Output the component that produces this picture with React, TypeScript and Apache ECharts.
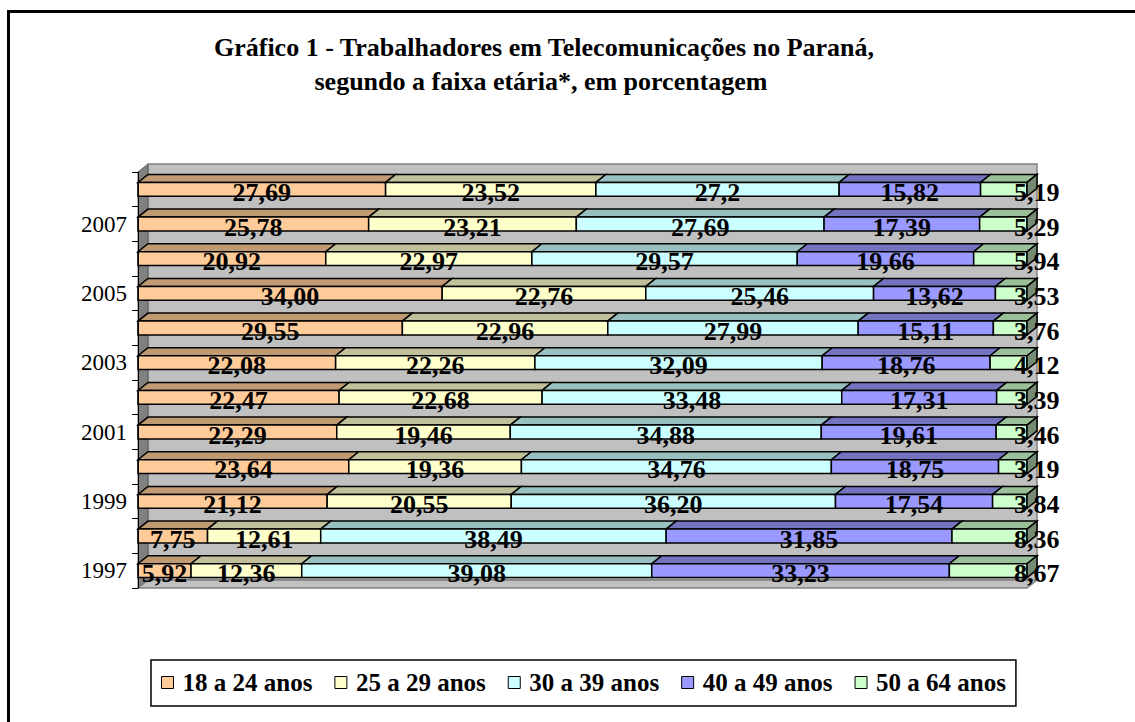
import React, { useEffect, useRef } from "react";
import * as echarts from "echarts";

const years = ["1997", "1998", "1999", "2000", "2001", "2002", "2003", "2004", "2005", "2006", "2007", "2008"];
const groupNames = ["18 a 24 anos", "25 a 29 anos", "30 a 39 anos", "40 a 49 anos", "50 a 64 anos"];
const g18 = ["5.92", "7.75", "21.12", "23.64", "22.29", "22.47", "22.08", "29.55", "34.00", "20.92", "25.78", "27.69"];
const g25 = ["12.36", "12.61", "20.55", "19.36", "19.46", "22.68", "22.26", "22.96", "22.76", "22.97", "23.21", "23.52"];
const g30 = ["39.08", "38.49", "36.20", "34.76", "34.88", "33.48", "32.09", "27.99", "25.46", "29.57", "27.69", "27.2"];
const g40 = ["33.23", "31.85", "17.54", "18.75", "19.61", "17.31", "18.76", "15.11", "13.62", "19.66", "17.39", "15.82"];
const g50 = ["8.67", "8.36", "3.84", "3.19", "3.46", "3.39", "4.12", "3.76", "3.53", "5.94", "5.29", "5.19"];
const groups = [g18, g25, g30, g40, g50];

const frontColors = ["#FFCC99", "#FFFFCC", "#CCFFFF", "#9999FF", "#CCFFCC"];
const topColors = ["#C09A73", "#C0C09A", "#99C0C0", "#7373C0", "#99C099"];
const sideColor = "#738C73";

const FONT = '"Liberation Serif", "Times New Roman", serif';
const DX = 10;
const DY = 8;
const GL = 138;
const GT = 172;
const GR = 1027;
const GB = 588;

export default function App() {
  const ref = useRef<HTMLDivElement>(null);

  useEffect(() => {
    if (!ref.current) return;
    const chart = echarts.init(ref.current, null, { renderer: "svg" });

    const totals = years.map((_, i) => groups.reduce((s, g) => s + parseFloat(g[i]), 0));
    const cum: number[][] = [];
    years.forEach((_, i) => {
      let acc = 0;
      groups.forEach((g, k) => {
        if (!cum[k]) cum[k] = [];
        const pct = (parseFloat(g[i]) / totals[i]) * 100;
        cum[k][i] = acc;
        acc += pct;
      });
    });

    const labelRows: number[][] = [];
    const labelTexts: string[] = [];
    const labelGroup: number[] = [];
    groups.forEach((g, k) => {
      years.forEach((_, i) => {
        const pct = (parseFloat(g[i]) / totals[i]) * 100;
        labelRows.push([cum[k][i] + pct / 2, i]);
        labelTexts.push(g[i].replace(".", ","));
        labelGroup.push(k);
      });
    });

    const barSeries = groups.map((g, k) => ({
      type: "custom",
      name: groupNames[k],
      itemStyle: { color: frontColors[k], borderColor: "#000" },
      encode: { x: [0, 1], y: 2 },
      data: years.map((_, i) => [cum[k][i], cum[k][i] + (parseFloat(g[i]) / totals[i]) * 100, i]),
      renderItem: (params: any, api: any) => {
        const s = api.value(0);
        const e = api.value(1);
        const ci = api.value(2);
        const p0 = api.coord([s, ci]);
        const p1 = api.coord([e, ci]);
        const band = api.size([0, 1])[1];
        const h = band * 0.4;
        const x0 = p0[0];
        const x1 = p1[0];
        const yT = p0[1] - h / 2;
        const yB = p0[1] + h / 2;
        const children: any[] = [
          {
            type: "polygon",
            shape: { points: [[x0, yT], [x1, yT], [x1 + DX, yT - DY], [x0 + DX, yT - DY]] },
            style: { fill: topColors[k], stroke: "#000", lineWidth: 1.5 },
          },
          {
            type: "rect",
            shape: { x: x0, y: yT, width: x1 - x0, height: h },
            style: { fill: frontColors[k], stroke: "#000", lineWidth: 1.5 },
          },
        ];
        if (k === groups.length - 1) {
          children.push({
            type: "polygon",
            shape: { points: [[x1, yT], [x1 + DX, yT - DY], [x1 + DX, yB - DY], [x1, yB]] },
            style: { fill: sideColor, stroke: "#000", lineWidth: 1.5 },
          });
        }
        return { type: "group", children };
      },
    }));

    const labelSeries = {
      type: "custom",
      name: "labels",
      z: 10,
      silent: true,
      encode: { x: 0, y: 1 },
      data: labelRows,
      renderItem: (params: any, api: any) => {
        const p = api.coord([api.value(0), api.value(1)]);
        const isLast = labelGroup[params.dataIndex] === groups.length - 1;
        const x = isLast ? Math.max(p[0] - 22, GR - 13) : p[0];
        const align = isLast ? "left" : "center";
        return {
          type: "text",
          x,
          y: p[1] + 3,
          style: {
            text: labelTexts[params.dataIndex],
            font: `bold 26px ${FONT}`,
            fill: "#000",
            textAlign: align,
            textVerticalAlign: "middle",
            align,
            verticalAlign: "middle",
          },
        };
      },
    };

    chart.setOption({
      animation: false,
      backgroundColor: "#fff",
      grid: { left: GL, right: 1135 - GR, top: GT, bottom: 722 - GB },
      xAxis: { type: "value", min: 0, max: 100, show: false },
      yAxis: {
        type: "category",
        data: years,
        axisLine: { show: true, lineStyle: { color: "#000", width: 1 } },
        axisTick: { show: true, interval: 0, length: 6, lineStyle: { color: "#000" } },
        axisLabel: { interval: 1, fontFamily: FONT, fontSize: 23, color: "#000", margin: 11 },
        splitLine: { show: false },
        z: 5,
      },
      legend: {
        data: groupNames,
        selectedMode: false,
        left: 151,
        top: 660,
        icon: "rect",
        itemWidth: 12,
        itemHeight: 12,
        itemGap: 22,
        padding: [10, 10, 11, 10],
        borderColor: "#000",
        borderWidth: 1.5,
        itemStyle: { borderColor: "#000", borderWidth: 1 },
        textStyle: { fontFamily: FONT, fontWeight: "bold", fontSize: 25, color: "#000", padding: [0, 0, 0, 4] },
      },
      graphic: [
        {
          type: "rect",
          z: -1,
          shape: { x: 8.5, y: 11.5, width: 1140, height: 740 },
          style: { fill: "none", stroke: "#000", lineWidth: 3 },
        },
        {
          type: "rect",
          z: -1,
          shape: { x: GL + DX, y: GT - DY, width: GR - GL, height: GB - GT },
          style: { fill: "#C0C0C0", stroke: "#808080", lineWidth: 1.5 },
        },
        {
          type: "polygon",
          z: -1,
          shape: { points: [[GL, GT], [GL + DX, GT - DY], [GL + DX, GB - DY], [GL, GB]] },
          style: { fill: "#808080", stroke: "#606060", lineWidth: 1 },
        },
        {
          type: "polygon",
          z: -1,
          shape: { points: [[GL, GB], [GL + DX, GB - DY], [GR + DX, GB - DY], [GR, GB]] },
          style: { fill: "#C0C0C0", stroke: "#808080", lineWidth: 1.5 },
        },
        {
          type: "text",
          x: 544,
          y: 47,
          style: {
            text: "Gráfico 1 - Trabalhadores em Telecomunicações no Paraná,",
            font: `bold 26px ${FONT}`,
            fill: "#000",
            textAlign: "center",
            textVerticalAlign: "middle",
          },
        },
        {
          type: "text",
          x: 541,
          y: 81,
          style: {
            text: "segundo a faixa etária*, em porcentagem",
            font: `bold 26px ${FONT}`,
            fill: "#000",
            textAlign: "center",
            textVerticalAlign: "middle",
          },
        },
      ],
      series: [...barSeries, labelSeries],
    });

    return () => chart.dispose();
  }, []);

  return <div ref={ref} style={{ position: "fixed", left: 0, top: 0, width: 1135, height: 722 }} />;
}
